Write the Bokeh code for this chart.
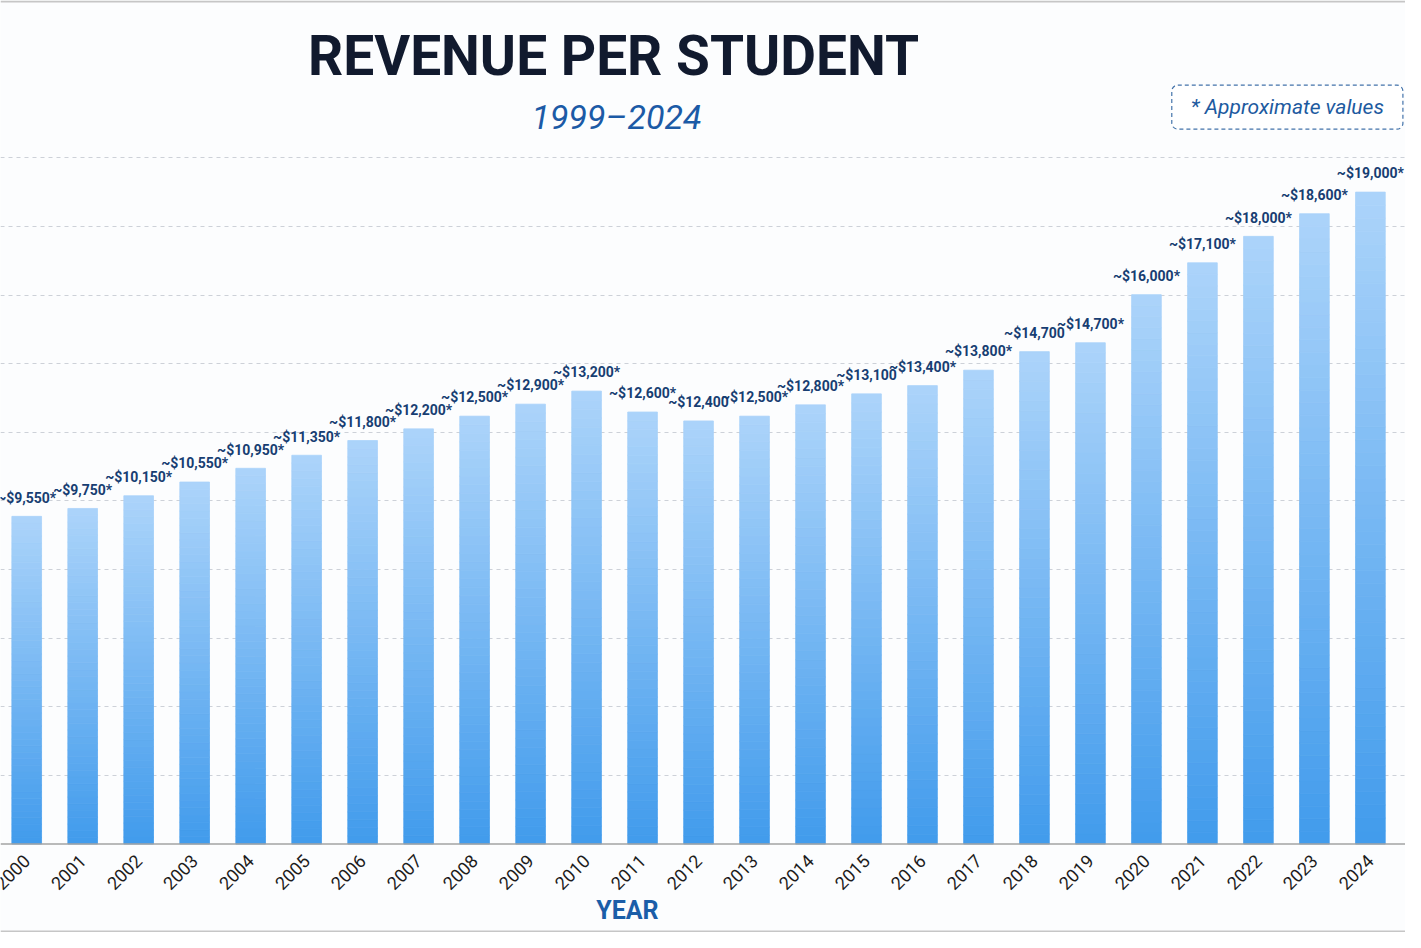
import numpy as np
from bokeh.core.properties import value
from bokeh.embed import file_html
from bokeh.models import ColumnDataSource, FixedTicker, Grid, Label, Range1d, Span
from bokeh.plotting import figure
from bokeh.resources import INLINE

# revenue per student
years = list(range(2000, 2025))
revenue = [9550, 9780, 10150, 10550, 10950, 11330, 11760, 12100, 12470,
           12820, 13200, 12590, 12330, 12470, 12800, 13120, 13360, 13810, 14350,
           14610, 16010, 16940, 17710, 18370, 19000]
value_labels = ["~$9,550*", "~$9,750*", "~$10,150*", "~$10,550*", "~$10,950*",
                "~$11,350*", "~$11,800*", "~$12,200*", "~$12,500*", "~$12,900*", "~$13,200*",
                "~$12,600*", "~$12,400", "~$12,500*", "~$12,800*", "~$13,100", "~$13,400*",
                "~$13,800*", "~$14,700", "~$14,700*", "~$16,000*", "~$17,100*", "~$18,000*",
                "~$18,600*", "~$19,000*"]
year_labels = [str(y) for y in years]
grid_values = [2000, 4000, 6000, 8000, 10000, 12000, 14000, 16000, 18000, 20000]

W, H = 1405, 932
SY = H / 948
ASC = 0.36  # alphabetic-baseline correction, as a share of the font size


# helpers: reference-image pixel -> data coordinates
def X(px):
    return 1999.532 + px / 56.625


def Y(py):
    return (858 - py) / 0.0349


p = figure(width=W, height=H, x_range=Range1d(X(0), X(1421)), y_range=Range1d(Y(948), Y(0)),
           output_backend="svg", toolbar_location=None,
           x_axis_location=None, y_axis_location=None, min_border=0,
           background_fill_color="#fcfdfe", border_fill_color="#fcfdfe",
           outline_line_color=None)
p.xgrid.visible = False
p.ygrid.visible = False
p.add_layout(Grid(dimension=1, ticker=FixedTicker(ticks=grid_values),
                  grid_line_color="#cdd1d8", grid_line_dash="4 4", grid_line_width=1))

# bars with a vertical gradient: stacked thin slices, dark at the bottom
N = 50
top_rgb = np.array([0xac, 0xd4, 0xfa])
bot_rgb = np.array([0x41, 0x9b, 0xec])
seg = dict(x=[], bottom=[], top=[], color=[])
for yr, v in zip(years, revenue):
    for k in range(N):
        t = (k + 0.5) / N
        c = bot_rgb + (top_rgb - bot_rgb) * t
        seg["x"].append(yr)
        seg["bottom"].append(v * k / N)
        seg["top"].append(v * (k + 1) / N)
        seg["color"].append("#%02x%02x%02x" % tuple(int(round(a)) for a in c))
p.vbar(x="x", bottom="bottom", top="top", width=0.53, source=ColumnDataSource(seg),
       fill_color="color", line_color="color", line_width=0.8)

p.add_layout(Span(location=0, dimension="width", line_color="#a3a3a3", line_width=1.5))
p.add_layout(Span(location=Y(1), dimension="width", line_color="#c6c6c6", line_width=2))
p.add_layout(Span(location=Y(947), dimension="width", line_color="#c6c6c6", line_width=2))

src = ColumnDataSource(dict(year=years, revenue=revenue, label=value_labels, yl=year_labels))

p.text(x="year", y="revenue", text="label", source=src, y_offset=-(14 + ASC * 14) * SY,
       text_align="center", text_baseline="alphabetic", text_font=value("Roboto"),
       text_font_style="bold", text_font_size="14px", text_color="#173e72")

# rotated year labels under the baseline
p.text(x="year", y=Y(872), text="yl", source=src, angle=np.pi / 4,
       text_align="right", text_baseline="middle", text_font=value("Roboto"),
       text_font_size="18px", text_color="#1c1c1c")

p.text(x=[X(620)], y=[Y(77)], text=["REVENUE PER STUDENT"], text_align="center",
       text_baseline="alphabetic", text_font=value("Roboto"), text_font_style="bold",
       text_font_size="55px", text_color="#111a2e", y_offset=-ASC * 55)
p.text(x=[X(623)], y=[Y(131)], text=["1999\u20132024"], text_align="center",
       text_baseline="alphabetic", text_font=value("Roboto"), text_font_style="italic",
       text_font_size="34px", text_color="#1b5aa6", y_offset=-ASC * 34)
p.text(x=[X(634)], y=[Y(935)], text=["YEAR"], text_align="center",
       text_baseline="alphabetic", text_font=value("Roboto"), text_font_style="bold",
       text_font_size="25px", text_color="#1b5ea8", y_offset=-ASC * 25)

note = Label(x=X(1301.5), y=Y(108.5), text="* Approximate values",
             text_align="center", text_baseline="middle", text_font="Roboto",
             text_font_style="italic", text_font_size="21px", text_color="#1d5aa0",
             border_line_color="#4373aa", border_line_dash="4 3", border_line_width=1.2,
             border_radius=6, padding=(19, 19, 10, 10),
             background_fill_color="#ffffff", background_fill_alpha=0.9)
p.add_layout(note)

open("out.html", "w").write(file_html(p, INLINE))
